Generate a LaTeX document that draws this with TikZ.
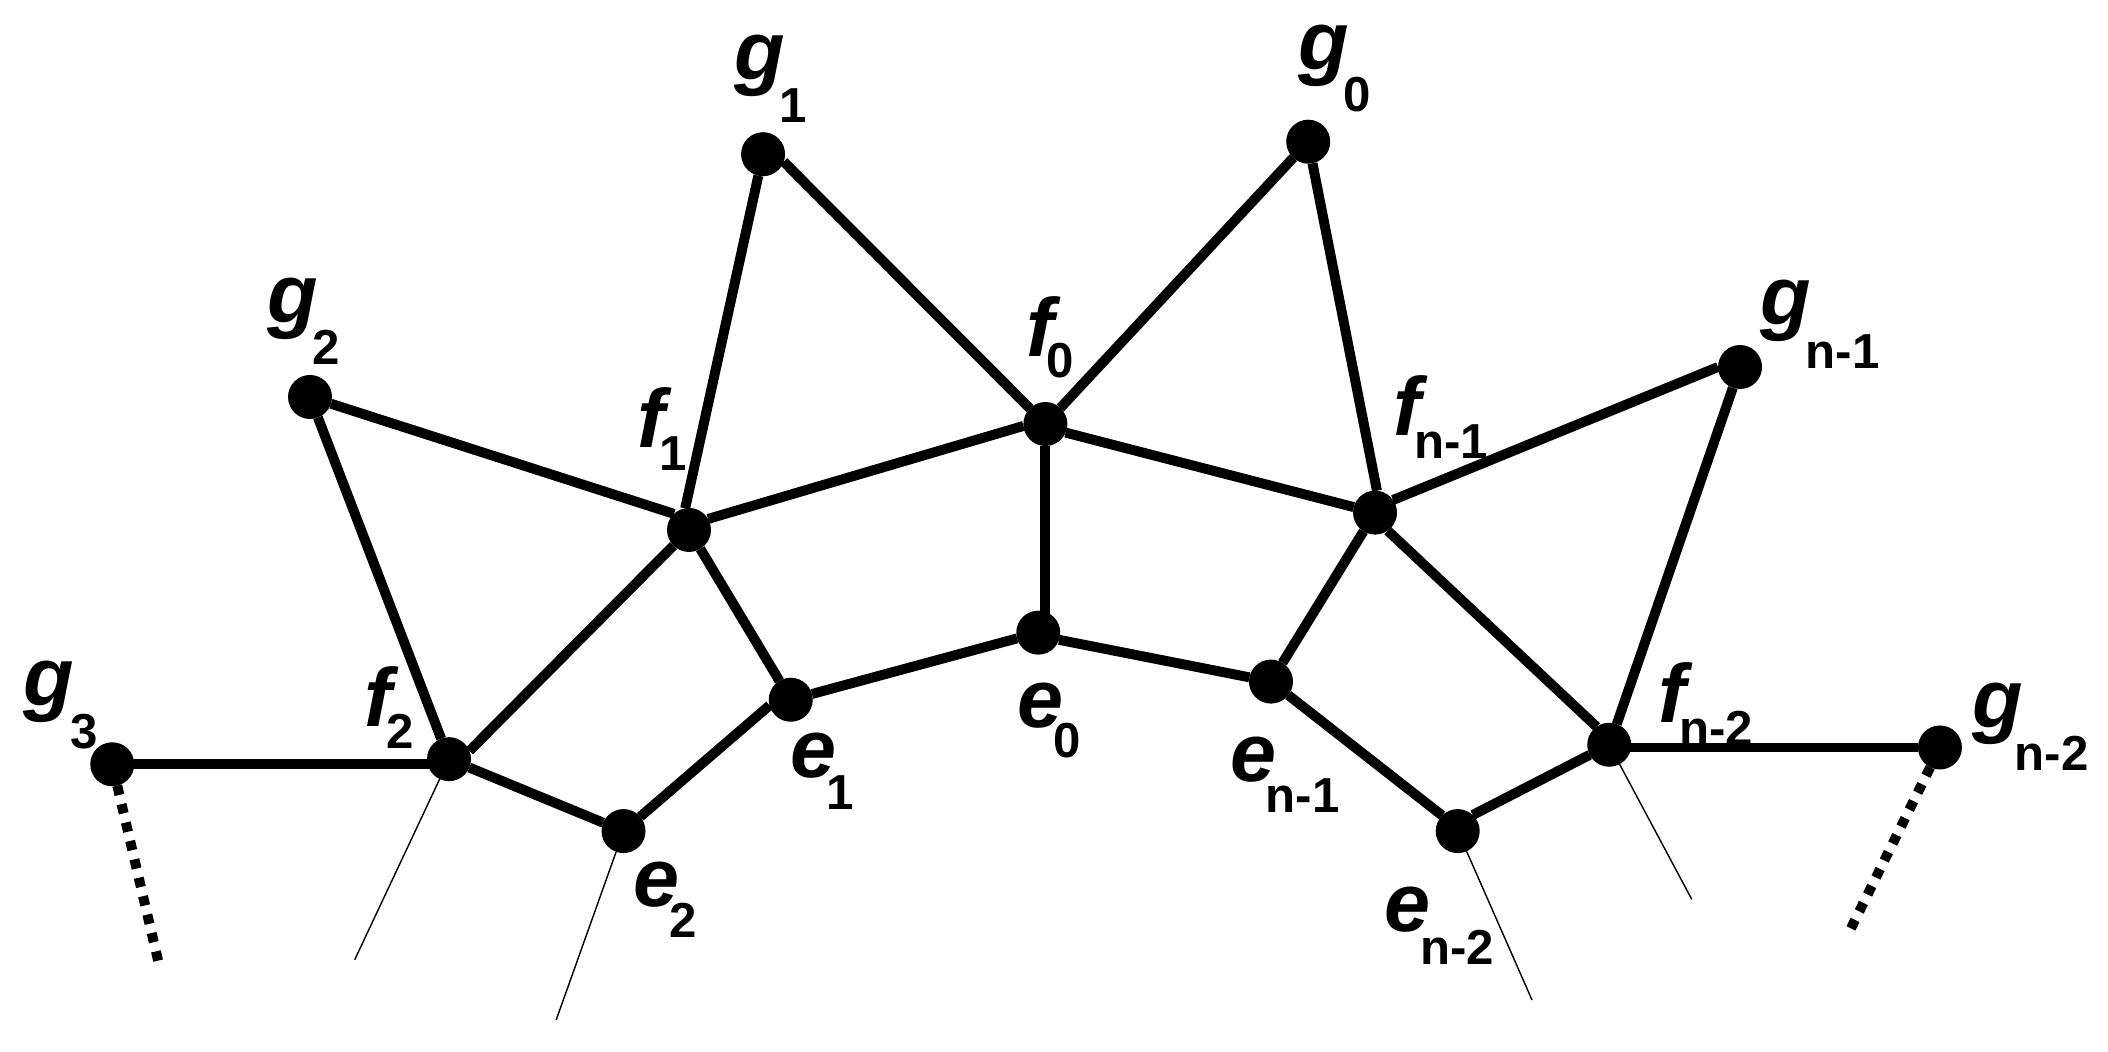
\documentclass[tikz,border=0pt]{standalone}
\usepackage{fontspec}
\setmainfont{Liberation Sans}
\tikzset{
  vertex/.style={circle, fill=black, inner sep=0pt, outer sep=0pt, minimum size=0.327cm},
  edge/.style={line width=2.1pt},
  thinedge/.style={line width=0.3pt},
  dotedge/.style={line width=2.1pt, dash pattern=on 2pt off 2pt},
  lab/.style={anchor=base west, inner sep=0pt, font=\fontsize{17.5}{17.5}\selectfont\bfseries\itshape},
  sublab/.style={anchor=base west, inner sep=0pt, font=\fontsize{10.4}{10.4}\selectfont\bfseries},
}
\begin{document}
\begin{tikzpicture}[x=0.01cm,y=-0.01cm]
\useasboundingbox (0,0) rectangle (1568,782.5);
% vertices
\node[vertex] (g1) at (567.6,114.7) {};
\node[vertex] (g0) at (973.1,105.4) {};
\node[vertex] (g2) at (230.6,295.3) {};
\node[vertex] (gn1) at (1294.3,273) {};
\node[vertex] (g3) at (83.5,568.5) {};
\node[vertex] (gn2) at (1443,556) {};
\node[vertex] (f0) at (777.6,315.4) {};
\node[vertex] (f1) at (512.5,394.2) {};
\node[vertex] (fn1) at (1022.8,381.3) {};
\node[vertex] (f2) at (334,564.7) {};
\node[vertex] (fn2) at (1197,554) {};
\node[vertex] (e0) at (772.3,470.6) {};
\node[vertex] (e1) at (588.2,520.5) {};
\node[vertex] (en1) at (945.4,507) {};
\node[vertex] (e2) at (463.8,618.2) {};
\node[vertex] (en2) at (1084.3,618.2) {};
\coordinate (t1) at (263.8,714);
\coordinate (t2) at (413.7,758.7);
\coordinate (t3) at (1139.6,743.9);
\coordinate (t4) at (1258.4,669);
\coordinate (d1) at (118.4,718);
\coordinate (d2) at (1374.1,696);
% edges
\draw[edge] (g1) -- (f1.100);
\draw[edge] (g1.-20) -- (f0);
\draw[edge] (g0) -- (f0);
\draw[edge] (g0) -- (fn1.85);
\draw[edge] (g2) -- (f1.133);
\draw[edge] (g2) -- (f2);
\draw[edge] (gn1.180) -- (fn1.35);
\draw[edge] (gn1) -- (fn2.70);
\draw[edge] (g3) -- (g3 -| f2);
\draw[edge] (gn2) -- (gn2 -| fn2);
\draw[edge] (f0.185) -- (f1.30);
\draw[edge] (f0.-23) -- (fn1);
\draw[edge] (f0) -- (f0 |- e0);
\draw[edge] (f1) -- (f2.22);
\draw[edge] (f1) -- (e1);
\draw[edge] (fn1.-55) -- (fn2.125);
\draw[edge] (fn1) -- (en1);
\draw[edge] (e0) -- (e1);
\draw[edge] (e0.-19) -- (en1);
\draw[edge] (e1.195) -- (e2);
\draw[edge] (e2) -- (f2);
\draw[edge] (en1) -- (en2.135);
\draw[edge] (en2.47) -- (fn2);
\draw[thinedge] (f2) -- (t1);
\draw[thinedge] (e2) -- (t2);
\draw[thinedge] (en2) -- (t3);
\draw[thinedge] (fn2) -- (t4);
\draw[dotedge] (g3) -- (d1);
\draw[dotedge] (gn2) -- (d2);
% labels
\node[lab] (lg1) at (546,59.5) {g};
\node[sublab] (sg1) at (579,91.3) {1};
\node[lab] (lg0) at (965.5,51.5) {g};
\node[sublab] (sg0) at (999,82.6) {0};
\node[lab] (lg2) at (198,240) {g};
\node[sublab] (sg2) at (231.5,271.5) {2};
\node[lab] (lg3) at (17,525) {g};
\node[sublab] (sg3) at (51.5,556.6) {3};
\node[lab] (lgn1) at (1309,241.4) {g};
\node[sublab] (sgn1) at (1342.5,273.9) {n-1};
\node[lab] (lgn2) at (1466.3,541) {g};
\node[sublab] (sgn2) at (1498,573.3) {n-2};
\node[lab] (lf0) at (763,265.5) {f};
\node[sublab] (sf0) at (778,280.5) {0};
\node[lab] (lf1) at (473.7,333.2) {f};
\node[sublab] (sf1) at (489.5,350.3) {1};
\node[lab] (lf2) at (270.5,540.7) {f};
\node[sublab] (sf2) at (287,557) {2};
\node[lab] (lfn1) at (1036,324.3) {f};
\node[sublab] (sfn1) at (1051.5,340.7) {n-1};
\node[lab] (lfn2) at (1233,537.8) {f};
\node[sublab] (sfn2) at (1248.2,554.2) {n-2};
\node[lab] (le0) at (756,540.8) {e};
\node[sublab] (se0) at (783.2,563.8) {0};
\node[lab] (le1) at (587,578.7) {e};
\node[sublab] (se1) at (614.4,602.5) {1};
\node[lab] (le2) at (470.3,674) {e};
\node[sublab] (se2) at (497.5,697) {2};
\node[lab] (len1) at (914.4,581) {e};
\node[sublab] (sen1) at (940.7,604.7) {n-1};
\node[lab] (len2) at (1029,693.2) {e};
\node[sublab] (sen2) at (1055.7,717.8) {n-2};
\end{tikzpicture}
\end{document}
